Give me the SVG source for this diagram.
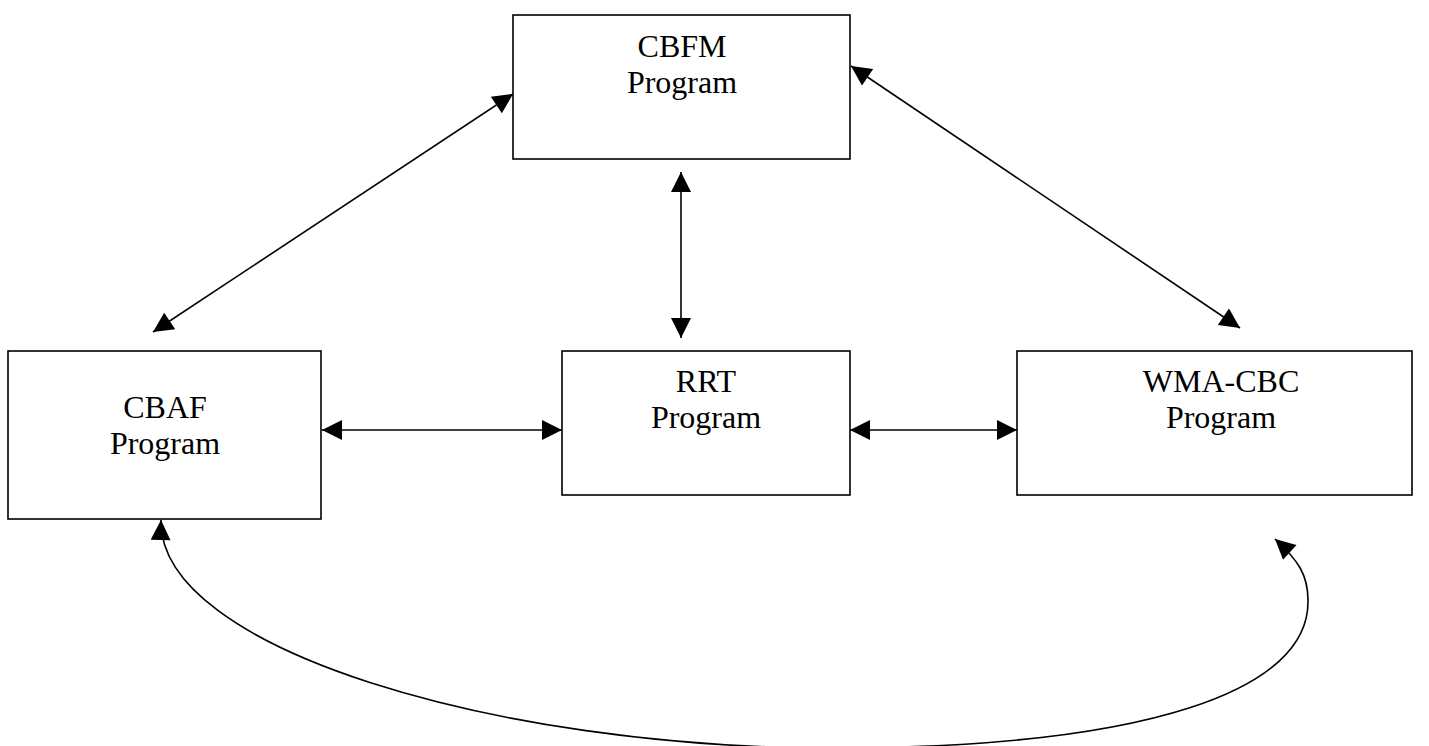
<svg xmlns="http://www.w3.org/2000/svg" width="1429" height="746" viewBox="0 0 1429 746">
<style>
.box{fill:#fff;stroke:#000;stroke-width:1.6}
.lbl{font-family:"Liberation Serif","Times New Roman",serif;font-size:32px;fill:#000;text-anchor:middle}
.c{fill:none;stroke:#000;stroke-width:1.6;marker-start:url(#ah);marker-end:url(#ah)}
</style>
<defs>
<marker id="ah" markerUnits="userSpaceOnUse" markerWidth="22" markerHeight="20" refX="20" refY="10" orient="auto-start-reverse" viewBox="0 0 20 20">
<path d="M0,0 L20,10 L0,20 z" fill="#000"/>
</marker>
</defs>
<g id="connectors">
<line class="c" x1="513" y1="94" x2="153" y2="332"/>
<line class="c" x1="851" y1="66" x2="1240" y2="328"/>
<line class="c" x1="681" y1="172" x2="681" y2="338"/>
<line class="c" x1="322" y1="430" x2="562" y2="430"/>
<line class="c" x1="850" y1="430" x2="1017" y2="430"/>
<path class="c" d="M161,520 C158,650 500,748 830,748 C1150,748 1310,690 1308,600 C1308,575 1298,560 1275,539"/>
</g>
<g id="cbfm">
<rect class="box" x="513" y="15" width="337" height="144"/>
<text class="lbl" x="682" y="57">CBFM</text>
<text class="lbl" x="682" y="93">Program</text>
</g>
<g id="cbaf">
<rect class="box" x="8" y="351" width="313" height="168"/>
<text class="lbl" x="165" y="418">CBAF</text>
<text class="lbl" x="165" y="454">Program</text>
</g>
<g id="rrt">
<rect class="box" x="562" y="351" width="288" height="144"/>
<text class="lbl" x="706" y="392">RRT</text>
<text class="lbl" x="706" y="428">Program</text>
</g>
<g id="wma-cbc">
<rect class="box" x="1017" y="351" width="395" height="144"/>
<text class="lbl" x="1221" y="392">WMA-CBC</text>
<text class="lbl" x="1221" y="428">Program</text>
</g>
</svg>
